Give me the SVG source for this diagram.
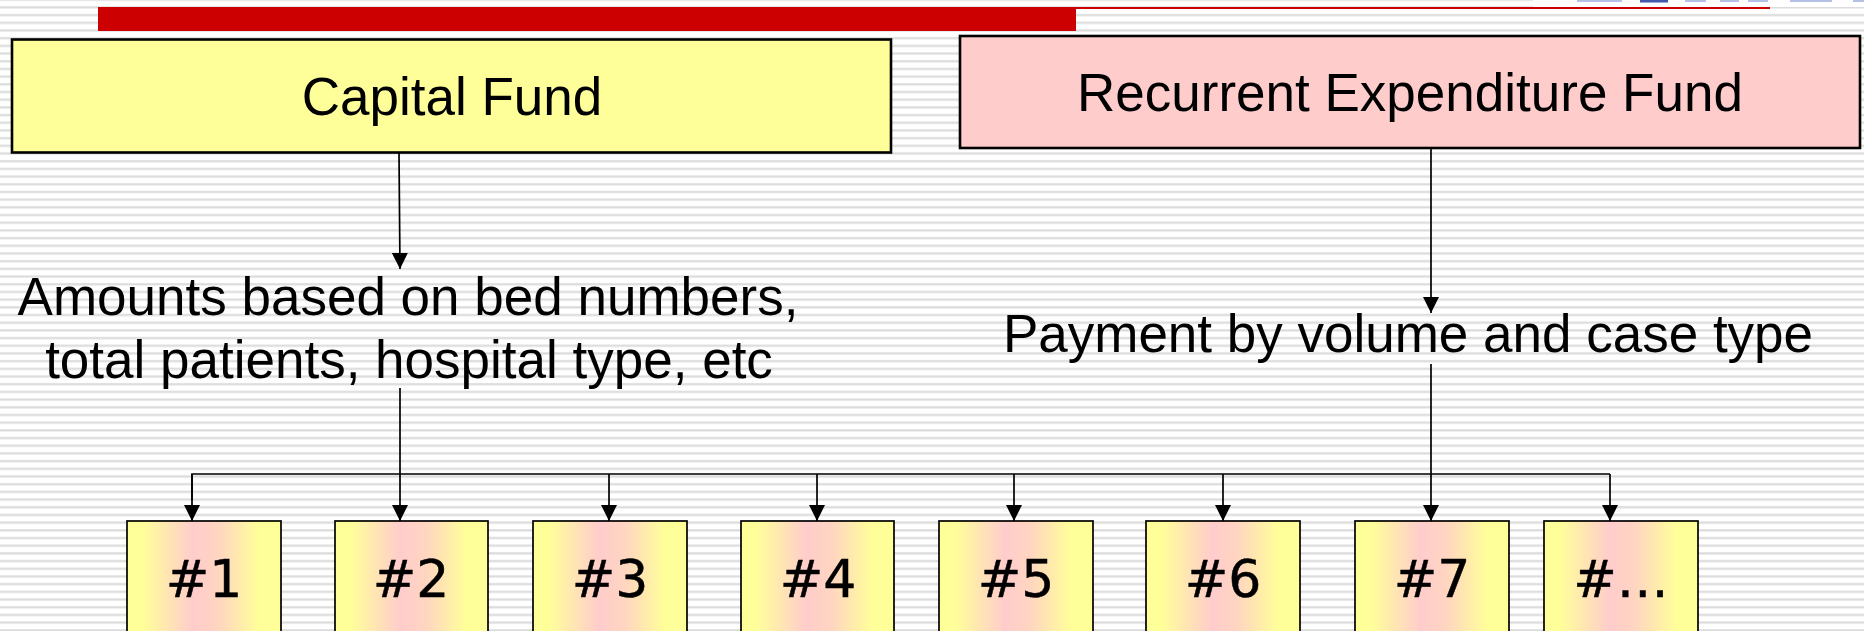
<svg xmlns="http://www.w3.org/2000/svg" width="1864" height="631" viewBox="0 0 1864 631">
<defs>
<pattern id="stripes" patternUnits="userSpaceOnUse" x="0" y="-1.58" width="40" height="7.69">
<rect x="0" y="0" width="40" height="2.6" fill="#e5e5e5"/>
<rect x="0" y="0.8" width="40" height="1" fill="#dadada"/>
</pattern>
<linearGradient id="boxgrad" x1="0" y1="0" x2="1" y2="0">
<stop offset="0" stop-color="#ffff99"/>
<stop offset="0.1" stop-color="#ffff99"/>
<stop offset="0.43" stop-color="#ffcccc"/>
<stop offset="0.6" stop-color="#ffd6c0"/>
<stop offset="0.86" stop-color="#ffff99"/>
<stop offset="1" stop-color="#ffff99"/>
</linearGradient>
<marker id="arrow" markerUnits="userSpaceOnUse" markerWidth="16" markerHeight="16" refX="16" refY="8" orient="auto">
<path d="M0,0 L16,8 L0,16 Z" fill="#000"/>
</marker>
</defs>
<style>
.big { font-family: "Liberation Sans", Arial, sans-serif; font-size: 53px; fill: #000; text-anchor: middle; }
.num { font-family: "DejaVu Sans", sans-serif; font-size: 52px; fill: #000; stroke: #000; stroke-width: 0.5; text-anchor: middle; }
.fund { stroke: #000; stroke-width: 2.6; }
.hosp { fill: url(#boxgrad); stroke: #000; stroke-width: 1.7; }
.conn { fill: none; stroke: #000; stroke-width: 1.7; }
.arr { fill: none; stroke: #000; stroke-width: 1.7; marker-end: url(#arrow); }
</style>
<rect x="0" y="0" width="1864" height="631" fill="#ffffff"/>
<rect x="0" y="0" width="1864" height="631" fill="url(#stripes)"/>
<g id="header">
<rect x="1533" y="0" width="331" height="7" fill="#ffffff"/>
<rect x="1577" y="0" width="45" height="2" fill="#b4c0e6"/>
<rect x="1640" y="0" width="28" height="2.5" fill="#4258ad"/>
<rect x="1685" y="0" width="21" height="2" fill="#b4c0e6"/>
<rect x="1720" y="0" width="19" height="2" fill="#b4c0e6"/>
<rect x="1748" y="0" width="20" height="2" fill="#b4c0e6"/>
<rect x="1790" y="0" width="42" height="2" fill="#b4c0e6"/>
<rect x="1853" y="0" width="11" height="2" fill="#b4c0e6"/>
<rect x="98" y="7" width="978" height="24" fill="#cc0000"/>
<rect x="1076" y="7" width="694" height="2" fill="#cc0000"/>
</g>
<g id="capital-fund">
<rect class="fund" x="12" y="39.5" width="879" height="113" fill="#ffff99"/>
<text class="big" x="452" y="115">Capital Fund</text>
</g>
<g id="recurrent-fund">
<rect class="fund" x="960" y="36" width="900" height="112" fill="#ffcccc"/>
<text class="big" x="1410" y="111">Recurrent Expenditure Fund</text>
</g>
<g id="capital-basis">
<text class="big" x="408" y="315">Amounts based on bed numbers,</text>
<text class="big" x="409" y="378">total patients, hospital type, etc</text>
</g>
<g id="recurrent-basis">
<text class="big" x="1408" y="352">Payment by volume and case type</text>
</g>
<g id="connectors">
<path class="arr" d="M399,153 L400,269"/>
<path class="arr" d="M1431,148 L1431,313"/>
<path class="arr" d="M400,388 L400,521"/>
<path class="arr" d="M1431,364 L1431,521"/>
<path class="conn" d="M192,500 L192,474 L1610,474"/>
<path class="arr" d="M192,474 L192,521"/>
<path class="arr" d="M609,474 L609,521"/>
<path class="arr" d="M817,474 L817,521"/>
<path class="arr" d="M1014,474 L1014,521"/>
<path class="arr" d="M1223,474 L1223,521"/>
<path class="arr" d="M1610,474 L1610,521"/>
</g>
<g id="hospital-1"><rect class="hosp" x="127" y="521" width="154" height="140"/><text class="num" x="204" y="597">#1</text></g>
<g id="hospital-2"><rect class="hosp" x="335" y="521" width="153" height="140"/><text class="num" x="411" y="597">#2</text></g>
<g id="hospital-3"><rect class="hosp" x="533" y="521" width="154" height="140"/><text class="num" x="610" y="597">#3</text></g>
<g id="hospital-4"><rect class="hosp" x="741" y="521" width="153" height="140"/><text class="num" x="818" y="597">#4</text></g>
<g id="hospital-5"><rect class="hosp" x="939" y="521" width="154" height="140"/><text class="num" x="1016" y="597">#5</text></g>
<g id="hospital-6"><rect class="hosp" x="1146" y="521" width="154" height="140"/><text class="num" x="1223" y="597">#6</text></g>
<g id="hospital-7"><rect class="hosp" x="1355" y="521" width="154" height="140"/><text class="num" x="1432" y="597">#7</text></g>
<g id="hospital-more"><rect class="hosp" x="1544" y="521" width="154" height="140"/><text class="num" x="1621" y="597">#…</text></g>
</svg>
